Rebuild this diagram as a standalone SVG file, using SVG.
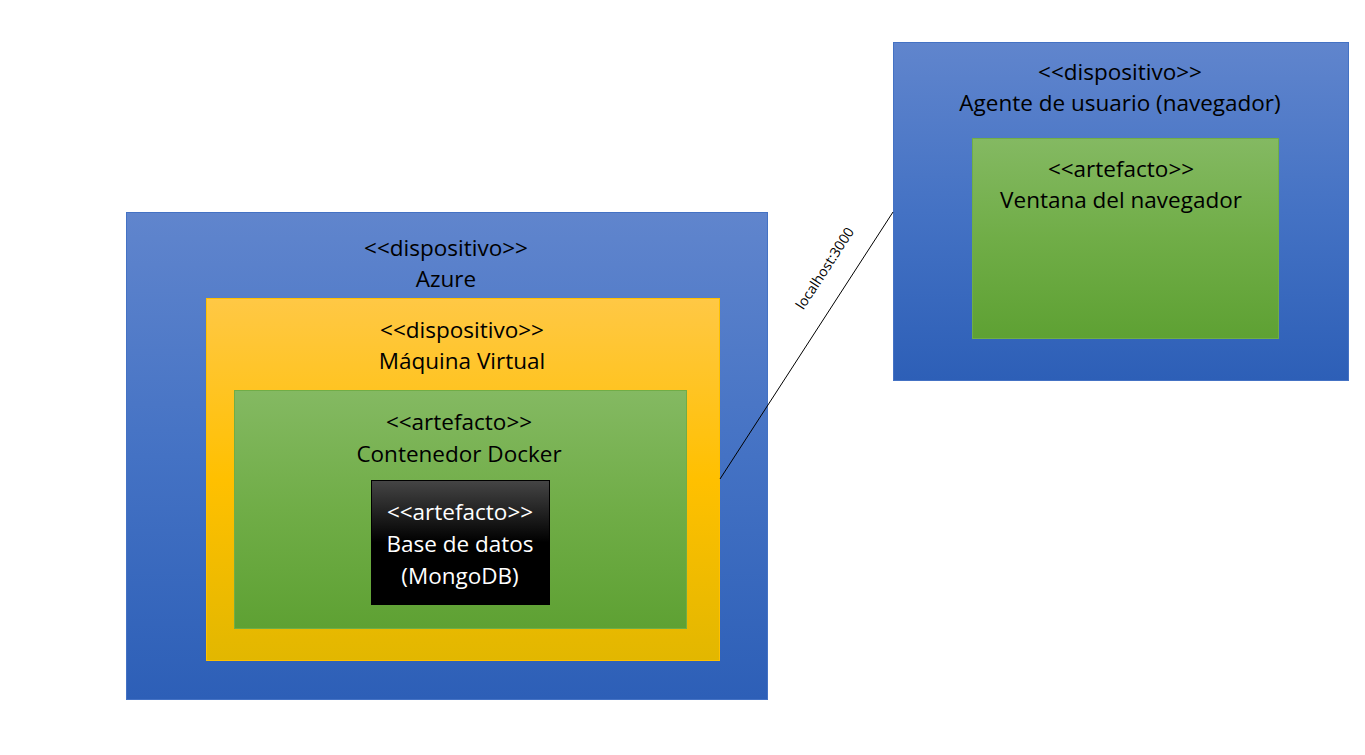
<svg xmlns="http://www.w3.org/2000/svg" width="1365" height="755" viewBox="0 0 1365 755">
<defs>
<linearGradient id="gBlue" x1="0" y1="0" x2="0" y2="1"><stop offset="0" stop-color="#6085CD"/><stop offset="0.5" stop-color="#4472C4"/><stop offset="1" stop-color="#2D5FB7"/></linearGradient>
<linearGradient id="gYellow" x1="0" y1="0" x2="0" y2="1"><stop offset="0" stop-color="#FFC845"/><stop offset="0.5" stop-color="#FFC000"/><stop offset="1" stop-color="#E2B700"/></linearGradient>
<linearGradient id="gGreen" x1="0" y1="0" x2="0" y2="1"><stop offset="0" stop-color="#84B962"/><stop offset="0.5" stop-color="#70AD47"/><stop offset="1" stop-color="#5EA133"/></linearGradient>
<linearGradient id="gBlack" x1="0" y1="0" x2="0" y2="1"><stop offset="0" stop-color="#454545"/><stop offset="0.5" stop-color="#000000"/><stop offset="1" stop-color="#000000"/></linearGradient>
</defs>
<style>
.blue{fill:url(#gBlue);stroke:#4472C4;stroke-width:1}
.yellow{fill:url(#gYellow);stroke:#FFC000;stroke-width:1}
.green{fill:url(#gGreen);stroke:#70AD47;stroke-width:1}
.black{fill:url(#gBlack);stroke:#000;stroke-width:1}
text{font-family:"Open Sans","Liberation Sans",sans-serif;font-size:22.5px;text-anchor:middle;fill:#000}
.w{fill:#fff}
.lbl{font-size:14px}
</style>
<g id="azure">
<rect class="blue" x="126.5" y="212.5" width="641" height="487"/>
<text x="446" y="256">&lt;&lt;dispositivo&gt;&gt;</text>
<text x="446" y="287">Azure</text>
</g>
<g id="maquina-virtual">
<rect class="yellow" x="206.5" y="298.5" width="513" height="362"/>
<text x="462" y="338">&lt;&lt;dispositivo&gt;&gt;</text>
<text x="462" y="369">Máquina Virtual</text>
</g>
<g id="contenedor-docker">
<rect class="green" x="234.5" y="390.5" width="452" height="238"/>
<text x="459" y="430">&lt;&lt;artefacto&gt;&gt;</text>
<text x="459" y="462">Contenedor Docker</text>
</g>
<g id="base-datos">
<rect class="black" x="371.5" y="480.5" width="178" height="124"/>
<text class="w" x="460" y="520">&lt;&lt;artefacto&gt;&gt;</text>
<text class="w" x="460" y="552">Base de datos</text>
<text class="w" x="460" y="584">(MongoDB)</text>
</g>
<g id="agente-usuario">
<rect class="blue" x="893.5" y="42.5" width="455" height="338"/>
<text x="1120" y="80">&lt;&lt;dispositivo&gt;&gt;</text>
<text x="1120" y="111">Agente de usuario (navegador)</text>
</g>
<g id="ventana-navegador">
<rect class="green" x="972.5" y="138.5" width="306" height="200"/>
<text x="1121" y="177">&lt;&lt;artefacto&gt;&gt;</text>
<text x="1121" y="208">Ventana del navegador</text>
</g>
<g id="connectors">
<line x1="720" y1="479" x2="893" y2="212" stroke="#000" stroke-width="1"/>
<text class="lbl" transform="translate(829,271) rotate(-57)">localhost:3000</text>
</g>
</svg>
